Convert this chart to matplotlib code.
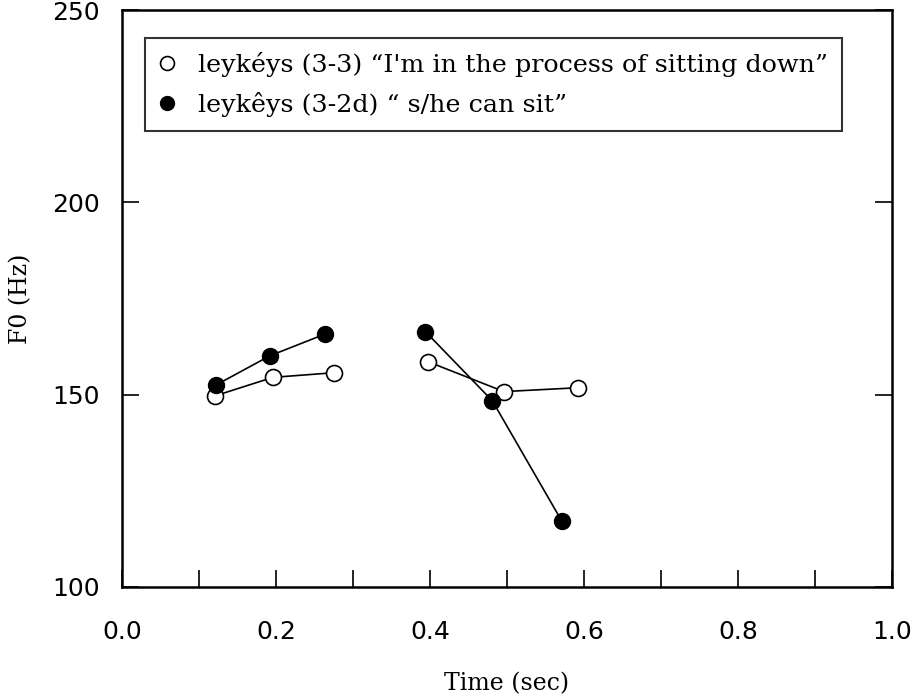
import matplotlib.pyplot as plt
import numpy as np

# F0 measurements, two syllables per token (gap between them)
t_open_1 = [0.121, 0.196, 0.275]
f0_open_1 = [149.7, 154.5, 155.7]
t_open_2 = [0.397, 0.496, 0.592]
f0_open_2 = [158.6, 150.8, 151.8]

t_fill_1 = [0.122, 0.192, 0.263]
f0_fill_1 = [152.5, 160.1, 165.7]
t_fill_2 = [0.394, 0.481, 0.571]
f0_fill_2 = [166.4, 148.4, 117.2]

label_open = 'leykéys (3-3) \u201cI\'m in the process of sitting down\u201d'
label_fill = 'leykêys (3-2d) \u201c s/he can sit\u201d'

xticks = np.arange(0.0, 1.01, 0.1)
xticklabels = ['0.0', '', '0.2', '', '0.4', '', '0.6', '', '0.8', '', '1.0']
yticks = [100, 150, 200, 250]

fig = plt.figure(figsize=(9.21, 6.97), dpi=100)
ax = fig.add_axes([122/921, 1 - 587/697, 770/921, 577/697])

ms = 11.5
ax.plot(t_open_1, f0_open_1, color='black', lw=1.2, marker='o', ms=ms,
        mfc='white', mec='black', mew=1.2, zorder=3)
ax.plot(t_open_2, f0_open_2, color='black', lw=1.2, marker='o', ms=ms,
        mfc='white', mec='black', mew=1.2, zorder=3)
ax.plot(t_fill_1, f0_fill_1, color='black', lw=1.2, marker='o', ms=ms,
        mfc='black', mec='black', zorder=4)
ax.plot(t_fill_2, f0_fill_2, color='black', lw=1.2, marker='o', ms=ms,
        mfc='black', mec='black', zorder=4)

# legend entries: markers only
h_open, = ax.plot([], [], ls='none', marker='o', ms=10, mfc='white',
                  mec='black', mew=1.2)
h_fill, = ax.plot([], [], ls='none', marker='o', ms=10, mfc='black',
                  mec='black')
leg = ax.legend([h_open, h_fill], [label_open, label_fill], loc='upper left',
                bbox_to_anchor=((145 - 122) / 770, (587 - 38) / 577),
                borderaxespad=0,
                prop={'family': 'DejaVu Serif', 'size': 18.3},
                frameon=True, fancybox=False, edgecolor='black',
                handlelength=0.6, handletextpad=0.95, borderpad=0.55,
                labelspacing=0.6)
leg.get_frame().set_linewidth(1.5)

ax.set_xlim(0, 1)
ax.set_ylim(100, 250)
ax.set_xticks(xticks)
ax.set_xticklabels(xticklabels)
ax.set_yticks(yticks)
ax.tick_params(axis='both', direction='in', length=12, width=1.2,
               labelsize=18)
ax.tick_params(axis='x', pad=24)
ax.tick_params(axis='y', pad=16, right=True)
for lab in ax.get_xticklabels() + ax.get_yticklabels():
    lab.set_family('DejaVu Sans')
for s in ax.spines.values():
    s.set_linewidth(1.8)

ax.set_xlabel('Time (sec)', family='DejaVu Serif', fontsize=17)
ax.xaxis.set_label_coords(0.5, -0.147)
ax.set_ylabel('F0 (Hz)', family='DejaVu Serif', fontsize=17)
ax.yaxis.set_label_coords(-0.117, 0.5)

fig.savefig('out.png', dpi=100)
